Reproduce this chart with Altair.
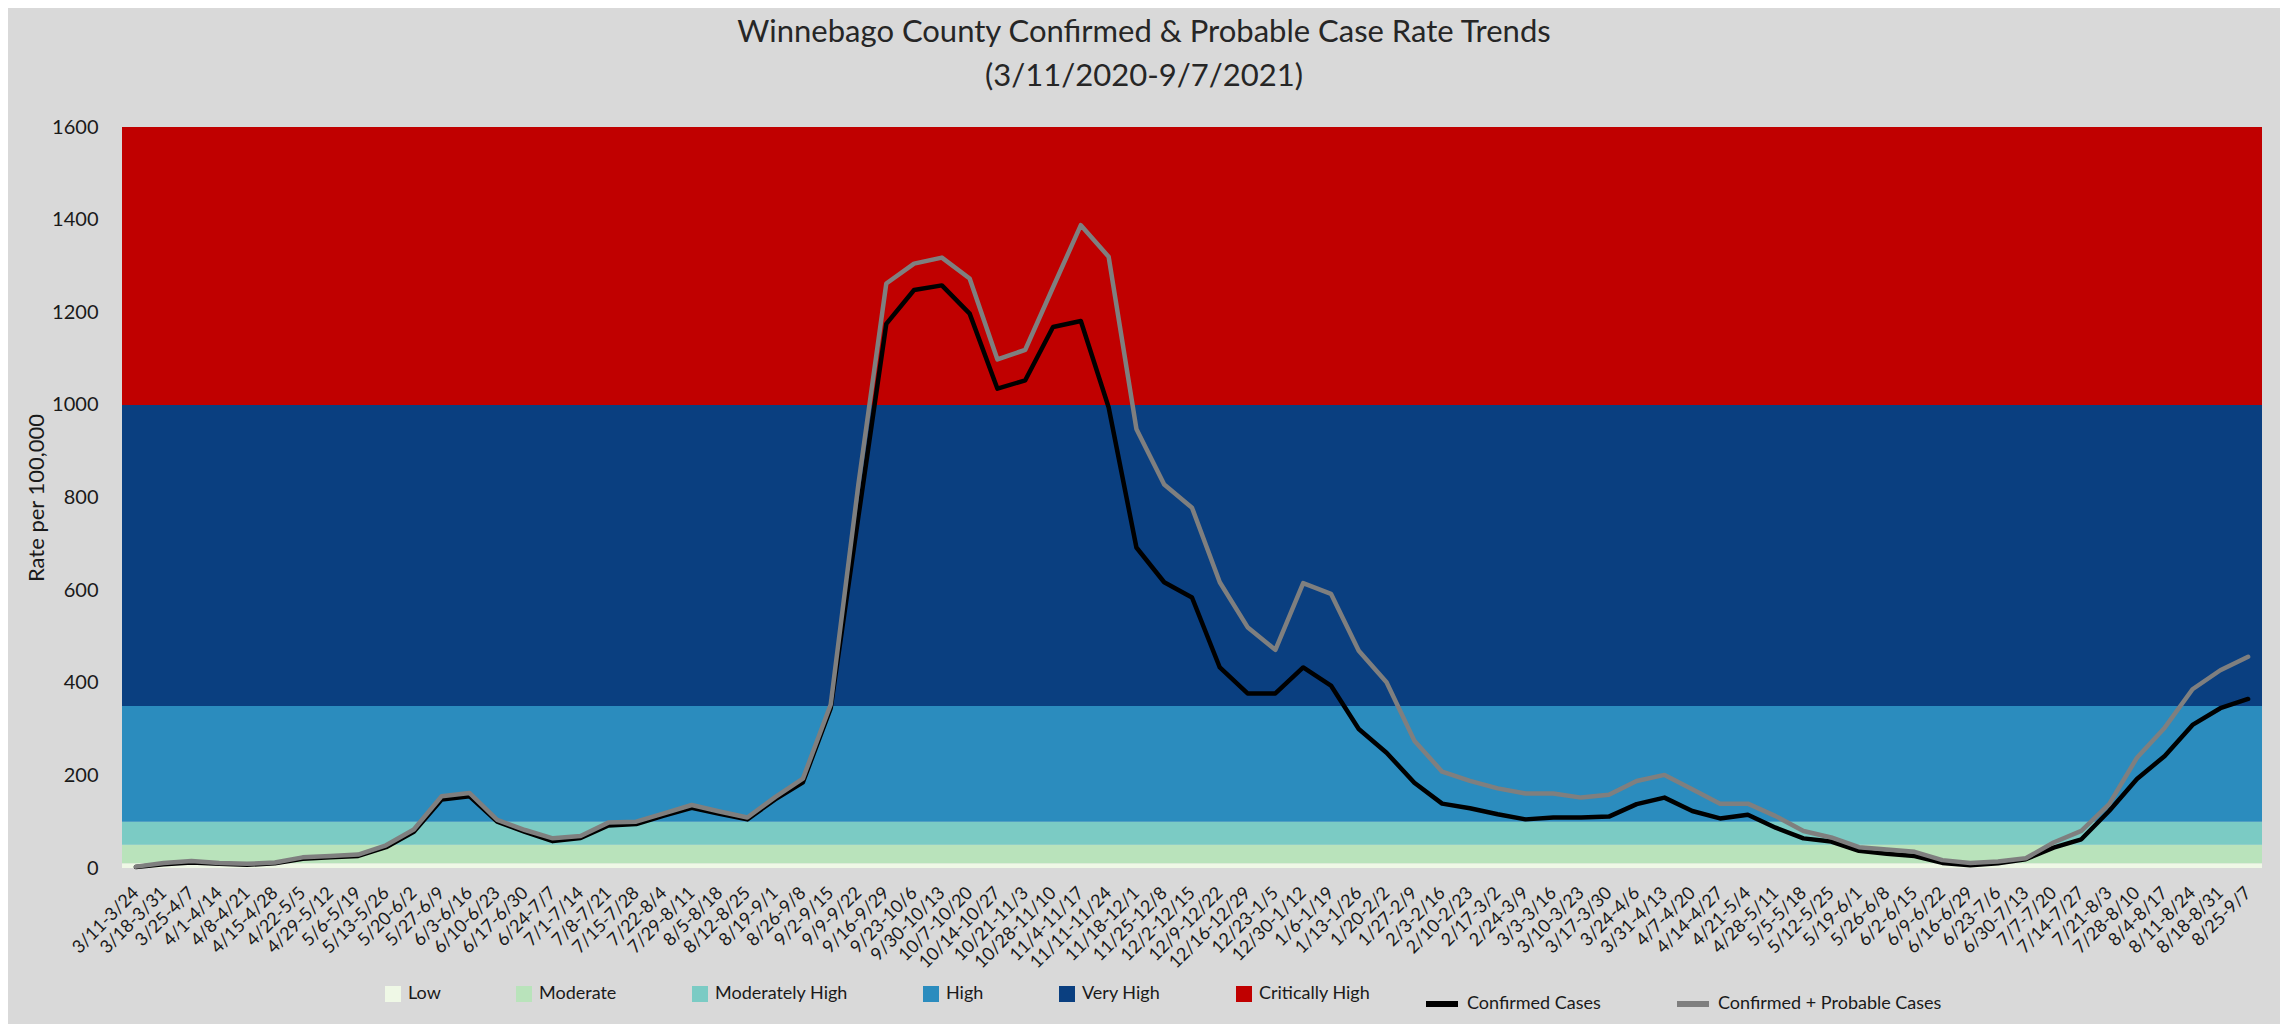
import altair as alt
import pandas as pd

weeks = [
    "3/11-3/24", "3/18-3/31", "3/25-4/7", "4/1-4/14", "4/8-4/21", "4/15-4/28", "4/22-5/5",
    "4/29-5/12", "5/6-5/19", "5/13-5/26", "5/20-6/2", "5/27-6/9", "6/3-6/16", "6/10-6/23",
    "6/17-6/30", "6/24-7/7", "7/1-7/14", "7/8-7/21", "7/15-7/28", "7/22-8/4", "7/29-8/11",
    "8/5-8/18", "8/12-8/25", "8/19-9/1", "8/26-9/8", "9/2-9/15", "9/9-9/22", "9/16-9/29",
    "9/23-10/6", "9/30-10/13", "10/7-10/20", "10/14-10/27", "10/21-11/3", "10/28-11/10",
    "11/4-11/17", "11/11-11/24", "11/18-12/1", "11/25-12/8", "12/2-12/15", "12/9-12/22",
    "12/16-12/29", "12/23-1/5", "12/30-1/12", "1/6-1/19", "1/13-1/26", "1/20-2/2", "1/27-2/9",
    "2/3-2/16", "2/10-2/23", "2/17-3/2", "2/24-3/9", "3/3-3/16", "3/10-3/23", "3/17-3/30",
    "3/24-4/6", "3/31-4/13", "4/7-4/20", "4/14-4/27", "4/21-5/4", "4/28-5/11", "5/5-5/18",
    "5/12-5/25", "5/19-6/1", "5/26-6/8", "6/2-6/15", "6/9-6/22", "6/16-6/29", "6/23-7/6",
    "6/30-7/13", "7/7-7/20", "7/14-7/27", "7/21-8/3", "7/28-8/10", "8/4-8/17", "8/11-8/24",
    "8/18-8/31", "8/25-9/7",
]

confirmed = [
    2, 8, 12, 9, 7, 10, 20, 23, 26, 45,
    78, 148, 155, 100, 78, 58, 65, 92, 95, 113,
    130, 117, 105, 148, 185, 345, 760, 1175, 1248, 1258,
    1197, 1035, 1053, 1168, 1181, 995, 692, 617, 584, 433,
    377, 377, 433, 394, 300, 249, 184, 139, 129, 116,
    105, 109, 109, 111, 138, 152, 123, 107, 115, 87,
    64, 57, 37, 31, 26, 11, 6, 10, 19, 44,
    62, 123, 192, 242, 309, 345, 365,
]

confirmed_probable = [
    3, 11, 15, 11, 9, 12, 23, 26, 29, 49,
    83, 155, 162, 104, 82, 64, 69, 98, 100, 118,
    136, 122, 109, 153, 193, 353, 830, 1262, 1305, 1318,
    1273, 1098, 1119, 1254, 1388, 1320, 948, 828, 778, 617,
    520, 471, 615, 592, 469, 401, 275, 208, 188, 172,
    161, 161, 152, 158, 188, 201, 170, 139, 139, 112,
    80, 66, 45, 40, 35, 17, 11, 14, 21, 55,
    80, 138, 238, 303, 386, 427, 456,
]

band_names = ["Low", "Moderate", "Moderately High", "High", "Very High", "Critically High"]
band_low = [0, 10, 50, 100, 350, 1000]
band_high = [10, 50, 100, 350, 1000, 1600]
band_colors = ["#eff8e6", "#b9e3bb", "#7bcbc4", "#2b8cbe", "#0a3f80", "#c00000"]

series_names = ["Confirmed Cases", "Confirmed + Probable Cases"]
series_colors = ["#000000", "#7f7f7f"]

y_ticks = [0, 200, 400, 600, 800, 1000, 1200, 1400, 1600]

FONT = "Lato"

bands = pd.DataFrame({"level": band_names, "lo": band_low, "hi": band_high})
lines = pd.DataFrame({
    "week": weeks + weeks,
    "rate": confirmed + confirmed_probable,
    "series": [series_names[0]] * len(weeks) + [series_names[1]] * len(weeks),
})

yscale = alt.Scale(domain=[0, 1600], nice=False, zero=True)
stroke_scale = alt.Scale(domain=series_names, range=series_colors)

band_layer = alt.Chart(bands).mark_rect().encode(
    y=alt.Y(
        "lo:Q",
        scale=yscale,
        title="Rate per 100,000",
        axis=alt.Axis(
            values=y_ticks, format="d", ticks=False, domain=False, grid=False,
            labelFontSize=20, labelPadding=24, labelColor="#1a1a1a", labelFont=FONT,
            titleFontSize=22, titleFontWeight="normal", titleColor="#1a1a1a",
            titleFont=FONT, titlePadding=3,
        ),
    ),
    y2="hi:Q",
    fill=alt.Fill(
        "level:N",
        scale=alt.Scale(domain=band_names, range=band_colors),
        legend=alt.Legend(
            title=None, orient="none", legendX=262, legendY=858,
            direction="horizontal", columns=6, columnPadding=74,
            symbolType="square", symbolSize=256, symbolStrokeWidth=0,
            labelFontSize=18, labelFont=FONT, labelColor="#1a1a1a", labelOffset=6,
            labelLimit=400,
        ),
    ),
)

x_enc = alt.X(
    "week:N", sort=weeks, title=None,
    axis=alt.Axis(
        labelAngle=-45, labelAlign="right", labelBaseline="middle",
        labelFontSize=18, labelFont=FONT, labelColor="#1a1a1a",
        labelPadding=22, ticks=False, domain=False, grid=False, labelOverlap=False,
    ),
)

line_legend = alt.Legend(
    title=None, orient="none", legendX=1301, legendY=858,
    direction="horizontal", columns=2, columnPadding=64,
    symbolType="stroke", symbolSize=1024, symbolStrokeWidth=6,
    labelFontSize=18, labelFont=FONT, labelColor="#1a1a1a", labelOffset=6,
    labelLimit=400,
)

black_line = alt.Chart(lines).transform_filter(
    alt.datum.series == series_names[0]
).mark_line(strokeWidth=4.5, strokeJoin="round", strokeCap="round").encode(
    x=x_enc,
    y=alt.Y("rate:Q", scale=yscale),
    stroke=alt.Stroke("series:N", scale=stroke_scale, legend=line_legend),
)

gray_line = alt.Chart(lines).transform_filter(
    alt.datum.series == series_names[1]
).mark_line(strokeWidth=4.5, strokeJoin="round", strokeCap="round").encode(
    x=x_enc,
    y=alt.Y("rate:Q", scale=yscale),
    stroke=alt.Stroke("series:N", scale=stroke_scale, legend=line_legend),
)

chart = alt.layer(band_layer, black_line, gray_line).properties(
    width=2140,
    height=741,
    padding={"left": 114, "top": 119, "right": 18, "bottom": 156},
    autosize=alt.AutoSizeParams(type="none"),
    background="#d9d9d9",
    title=alt.TitleParams(
        text=["Winnebago County Confirmed & Probable Case Rate Trends", "(3/11/2020-9/7/2021)"],
        fontSize=31, font=FONT, fontWeight="normal", color="#262626",
        lineHeight=44, anchor="middle", dx=-48, offset=24,
    ),
).configure_view(stroke=None)

chart.save("out.html", embed_options={"renderer": "svg", "actions": False})
